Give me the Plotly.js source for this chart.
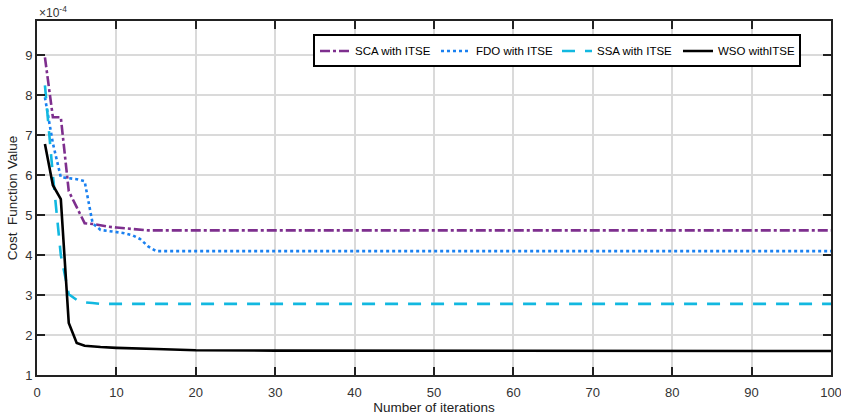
<!DOCTYPE html>
<html>
<head>
<meta charset="utf-8">
<script src="https://cdn.plot.ly/plotly-3.0.1.min.js"></script>
<style>html,body{margin:0;padding:0;background:#fff;}#chart{width:841px;height:415px;}</style>
</head>
<body>
<div id="chart"></div>
<script>
// Values in units of 1e-4
const scaIter = [1, 2, 3, 4, 5, 6, 7, 8, 9, 10, 12, 14, 100];
const scaCost = [8.95, 7.45, 7.45, 5.6, 5.2, 4.8, 4.78, 4.74, 4.71, 4.69, 4.65, 4.62, 4.62];

const fdoIter = [1, 2, 3, 4, 5, 6, 7, 8, 9, 10, 11, 12, 13, 14, 15, 100];
const fdoCost = [7.95, 6.8, 5.95, 5.92, 5.9, 5.85, 4.8, 4.63, 4.6, 4.57, 4.55, 4.5, 4.4, 4.22, 4.1, 4.1];

const ssaIter = [1, 2, 3, 4, 5, 6, 7, 8, 100];
const ssaCost = [8.25, 6.0, 4.0, 3.02, 2.88, 2.82, 2.8, 2.78, 2.78];

const wsoIter = [1, 2, 3, 4, 5, 6, 8, 10, 15, 20, 30, 100];
const wsoCost = [6.78, 5.75, 5.4, 2.3, 1.8, 1.73, 1.7, 1.68, 1.65, 1.62, 1.61, 1.6];

const seriesNames = ['SCA with ITSE', 'FDO with ITSE', 'SSA with ITSE', 'WSO withITSE'];
const xTicks = [0, 10, 20, 30, 40, 50, 60, 70, 80, 90, 100];
const yTicks = [1, 2, 3, 4, 5, 6, 7, 8, 9];

const font = 'Liberation Sans, Arial, sans-serif';

const traces = [
  {x: scaIter, y: scaCost, name: seriesNames[0], mode: 'lines',
   line: {color: '#7E2F8E', width: 2.6, dash: '10px,3px,3px,3px'}},
  {x: fdoIter, y: fdoCost, name: seriesNames[1], mode: 'lines',
   line: {color: '#1A80F0', width: 2.6, dash: '3px,3px'}},
  {x: ssaIter, y: ssaCost, name: seriesNames[2], mode: 'lines',
   line: {color: '#12B8E0', width: 2.6, dash: '13px,10px'}},
  {x: wsoIter, y: wsoCost, name: seriesNames[3], mode: 'lines',
   line: {color: '#000000', width: 2.6}}
];

const layout = {
  width: 841, height: 415,
  margin: {l: 37, r: 10, t: 20.5, b: 40, pad: 0},
  paper_bgcolor: '#fff', plot_bgcolor: '#fff',
  font: {family: font, size: 13, color: '#333'},
  showlegend: true,
  legend: {
    orientation: 'h', x: 0.3476, y: 0.962, xanchor: 'left', yanchor: 'top',
    bordercolor: '#000', borderwidth: 2, bgcolor: '#fff',
    font: {family: font, size: 11.5, color: '#000'},
    entrywidth: 76, entrywidthmode: 'pixels',
    tracegroupgap: 0
  },
  xaxis: {
    range: [0, 100], tickvals: xTicks, ticktext: xTicks.map(String),
    showgrid: true, gridcolor: '#dadada', gridwidth: 2,
    zeroline: false, showline: true, linecolor: '#222', linewidth: 2, mirror: 'ticks',
    ticks: 'inside', ticklen: 8, tickwidth: 2, tickcolor: '#222',
    ticklabeloverflow: 'allow', ticklabelstandoff: 4,
    tickfont: {family: font, size: 13, color: '#333'},
    title: {text: 'Number of iterations', font: {family: font, size: 13.5, color: '#222'}, standoff: 0}
  },
  yaxis: {
    range: [1, 9.86], tickvals: yTicks, ticktext: yTicks.map(String),
    showgrid: true, gridcolor: '#dadada', gridwidth: 2,
    zeroline: false, showline: true, linecolor: '#222', linewidth: 2, mirror: 'ticks',
    ticks: 'inside', ticklen: 8, tickwidth: 2, tickcolor: '#222',
    tickfont: {family: font, size: 13, color: '#333'},
    title: {text: 'Cost  Function Value', font: {family: font, size: 13.5, color: '#222'}, standoff: 4}
  },
  annotations: [{
    xref: 'paper', yref: 'paper', x: 0, y: 1, xanchor: 'left', yanchor: 'bottom',
    text: '×10<sup>-4</sup>', showarrow: false, font: {family: font, size: 12, color: '#333'}, yshift: -1
  }]
};

Plotly.newPlot('chart', traces, layout, {displayModeBar: false, staticPlot: true});
</script>
</body>
</html>
